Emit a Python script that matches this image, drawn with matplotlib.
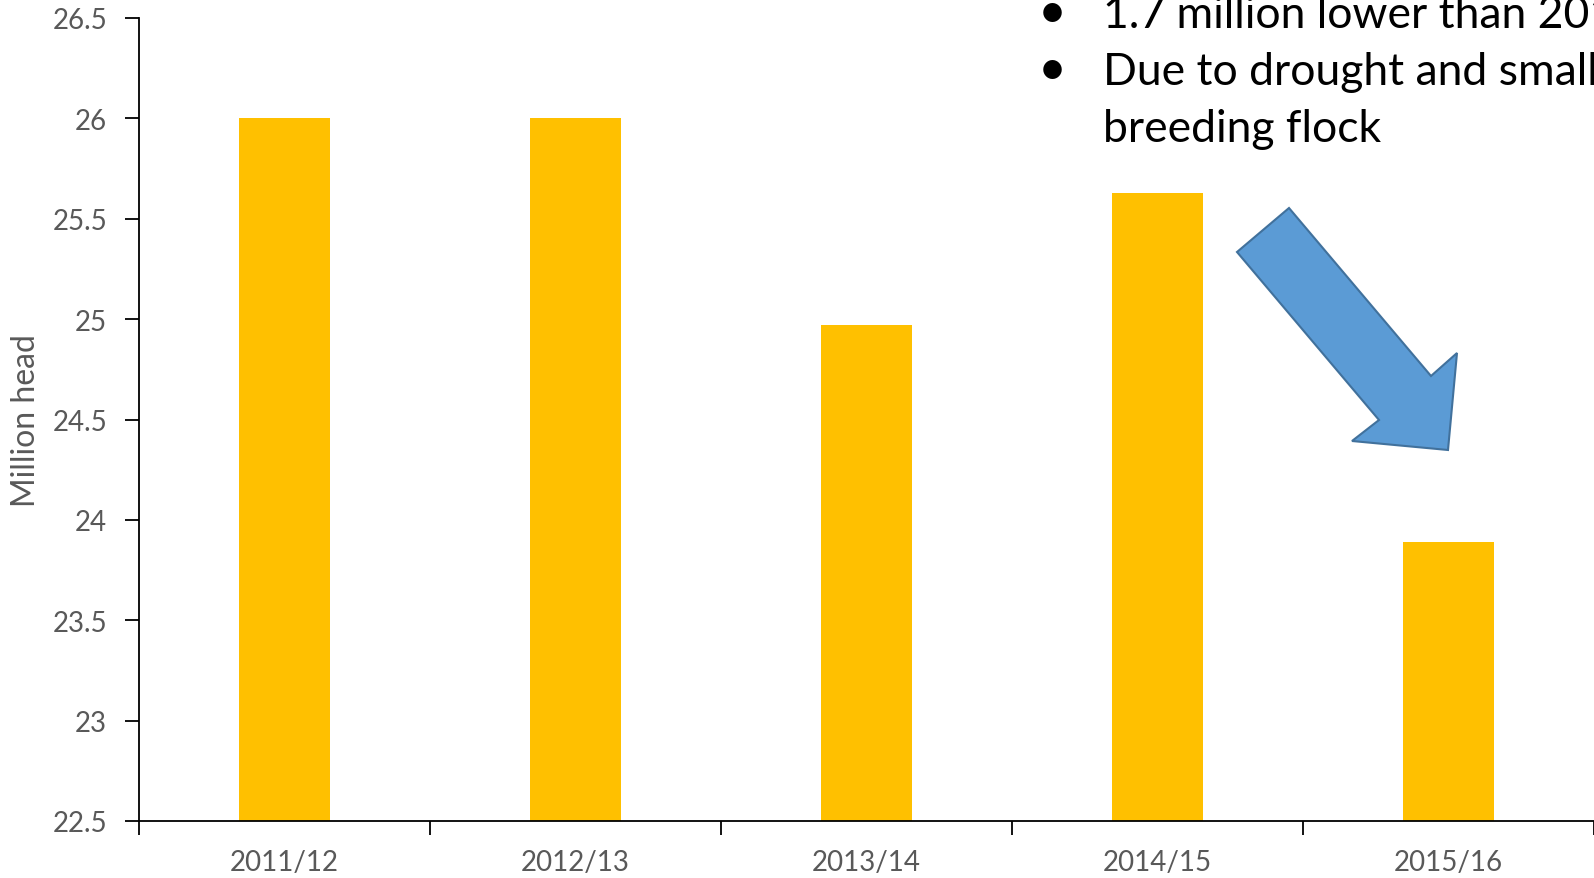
import matplotlib
matplotlib.use("Agg")
import matplotlib.pyplot as plt
from matplotlib.patches import Polygon

plt.rcParams['font.family'] = ['Lato', 'DejaVu Sans']

categories = ["2011/12", "2012/13", "2013/14", "2014/15", "2015/16"]
values = [26.0, 26.0, 24.97, 25.63, 23.89]
yticks = [22.5, 23, 23.5, 24, 24.5, 25, 25.5, 26, 26.5]
ytick_labels = ["22.5", "23", "23.5", "24", "24.5", "25", "25.5", "26", "26.5"]
note_lines = ["1.7 million lower than 2014/15", "Due to drought and smaller", "breeding flock"]
note_bullets = [True, True, False]

W, H = 1594, 879
fig = plt.figure(figsize=(W / 100, H / 100), dpi=100)
ax = fig.add_axes([139 / W, 1 - 822 / H, 1 - 139 / W, (822 - 19) / H])

x = list(range(len(categories)))
ax.bar(x, values, width=0.313, color="#FFC000", zorder=2)
ax.set_xlim(-0.5, len(categories) - 0.5)
ax.set_ylim(22.5, 26.5)
ax.set_yticks(yticks)
ax.set_yticklabels(ytick_labels)
ax.set_xticks([i - 0.5 for i in range(len(categories) + 1)], minor=False)
ax.set_xticklabels([""] * (len(categories) + 1))
ax.set_xticks(x, minor=True)
ax.set_xticklabels(categories, minor=True)
ax.tick_params(axis="x", which="minor", length=0, pad=20, labelsize=20, labelcolor="#595959")
ax.tick_params(axis="x", which="major", length=10, width=1.3, direction="out")
ax.tick_params(axis="y", length=10, width=1.3, direction="out", pad=13, labelsize=20, labelcolor="#595959")
for s in ["top", "right"]:
    ax.spines[s].set_visible(False)
for s in ["left", "bottom"]:
    ax.spines[s].set_linewidth(1.3)
    ax.spines[s].set_color("#000000")
ax.set_ylabel("Million head", fontsize=23, color="#595959", labelpad=8)

# Notes (bulleted text, top right)
baselines = [28, 85, 142]
for line, bullet, by in zip(note_lines, note_bullets, baselines):
    if bullet:
        fig.text(1052 / W, 1 - by / H, "\u2022", fontsize=36, ha="center", va="baseline", color="black")
    fig.text(1103 / W, 1 - by / H, line, fontsize=32, ha="left", va="baseline", color="black")

# Block arrow annotation
pts = [(1237, 253), (1289, 209), (1431, 377), (1457, 354), (1448, 451), (1352, 442), (1379, 421)]
poly = Polygon([(px / W, 1 - py / H) for px, py in pts], closed=True,
               facecolor="#5B9BD5", edgecolor="#41719C", linewidth=1.5,
               transform=fig.transFigure)
fig.patches.append(poly)

fig.savefig("out.png", dpi=100)
